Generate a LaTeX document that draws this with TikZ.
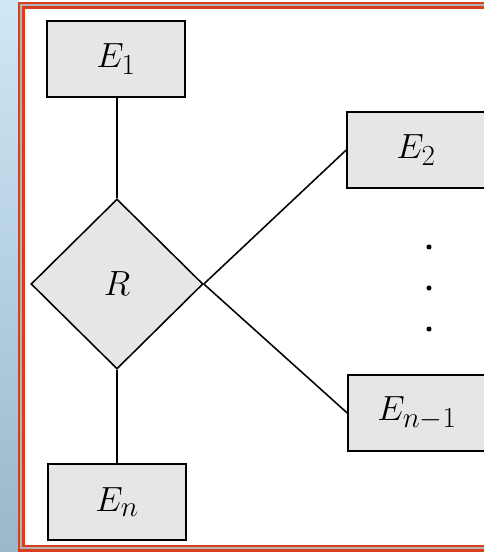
\documentclass[tikz,border=0pt]{standalone}
\usepackage{amsmath,amssymb}
\usetikzlibrary{shapes.geometric}

\definecolor{framered}{RGB}{214,64,30}
\definecolor{framegray}{RGB}{178,178,178}
\definecolor{boxgray}{RGB}{230,230,230}

\begin{document}
\begin{tikzpicture}[x=0.025cm,y=-0.025cm,
    entity/.style={draw,line width=1.1pt,fill=boxgray,minimum width=3.45cm,minimum height=1.9cm,font=\Huge},
    rel/.style={draw,line width=1.1pt,fill=boxgray,diamond,aspect=1,inner sep=0pt,minimum width=4.3cm,minimum height=4.25cm,font=\Huge}]
  \useasboundingbox (0,0) rectangle (484,552);

  \shade[top color={rgb,255:red,207;green,232;blue,248},bottom color={rgb,255:red,155;green,184;blue,200}] (0,0) rectangle (19,552); % side strip

  % double frame
  \draw[framered,line width=1.6pt] (19,3) rectangle (520,550.5);
  \draw[framegray,line width=1.4pt] (21.2,5.2) rectangle (520,548.3);
  \draw[framered,line width=1.6pt] (23.4,7.4) rectangle (520,546.2);

  \node[entity] (E1) at (116,59) {$E_1$};
  \node[entity] (E2) at (416,150) {$E_2$};
  \node[entity] (Em) at (417,413) {$E_{n-1}$};
  \node[entity] (En) at (117,502) {$E_n$};
  \node[rel] (R) at (117,284) {$R$};

  \draw[line width=1.1pt] (R.north) -- (R.north |- E1.south);
  \draw[line width=1.1pt] (R.south) -- (R.south |- En.north);
  \draw[line width=1.1pt] (R.east) -- (E2.west);
  \draw[line width=1.1pt] (R.east) -- (Em.west);

  \foreach \y in {247,288,329}
    \fill (429,\y) circle (1.8pt); % dots
\end{tikzpicture}
\end{document}
